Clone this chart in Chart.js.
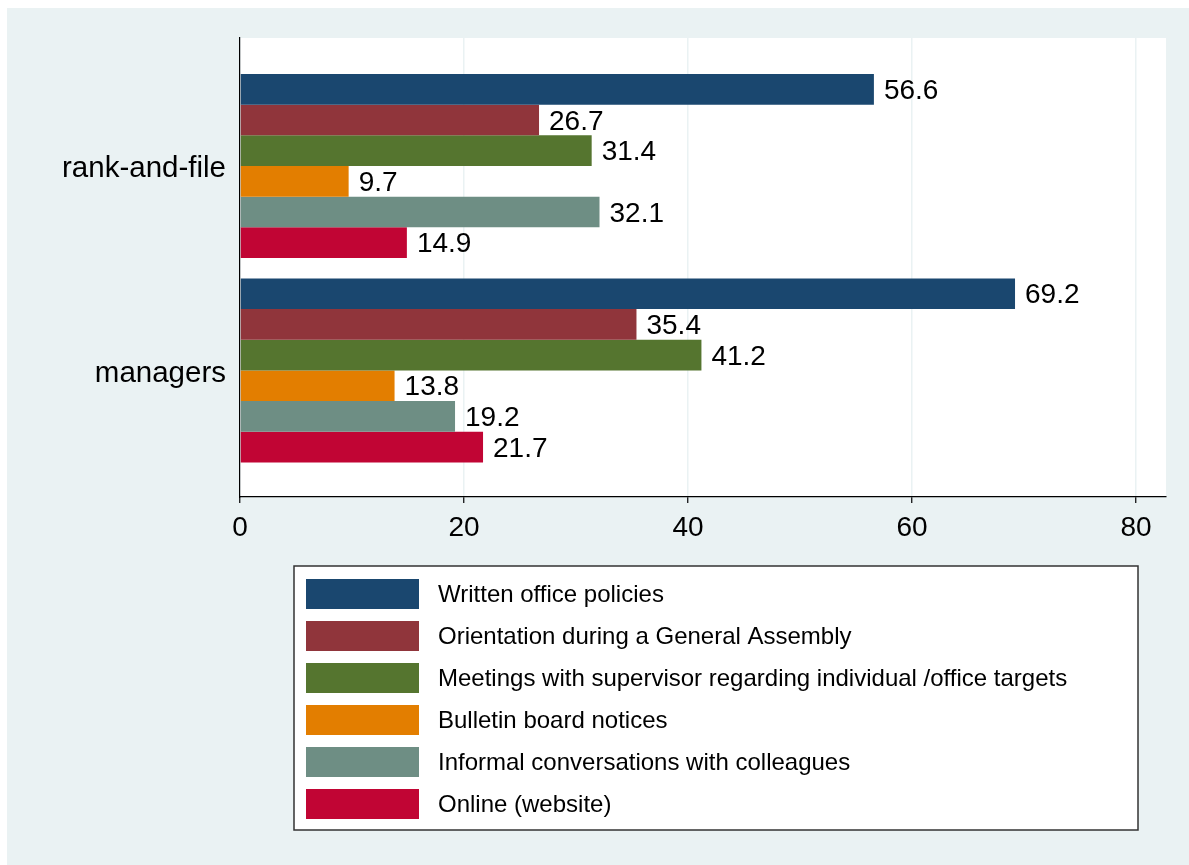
<!DOCTYPE html>
<html><head><meta charset="utf-8">
<style>html,body{margin:0;padding:0;background:#fff;} #wrap{width:1189px;height:865px;position:relative;}</style>
<script src="https://cdn.jsdelivr.net/npm/chart.js@4.4.1/dist/chart.umd.min.js"></script>
</head><body><div id="wrap"><canvas id="c" width="1189" height="865"></canvas></div>
<script>
const groups = ['rank-and-file', 'managers'];
const seriesNames = [
  'Written office policies',
  'Orientation during a General Assembly',
  'Meetings with supervisor regarding individual /office targets',
  'Bulletin board notices',
  'Informal conversations with colleagues',
  'Online (website)'
];
const seriesColors = ['#1a476f', '#90353b', '#55752f', '#e37e00', '#6e8e84', '#c10534'];
const writtenPolicies = [56.6, 69.2];
const orientation = [26.7, 35.4];
const meetings = [31.4, 41.2];
const bulletin = [9.7, 13.8];
const informal = [32.1, 19.2];
const online = [14.9, 21.7];
const xTicks = [0, 20, 40, 60, 80];

const seriesValues = [writtenPolicies, orientation, meetings, bulletin, informal, online];
const FONT = '"Liberation Sans", Arial, Helvetica, sans-serif';
const Y_MIN = 0.374, Y_MAX = 2.619;

const datasets = seriesValues.map((vals, s) => ({
  label: seriesNames[s],
  data: vals.map((v, i) => ({ x: v, y: i + 1 })),
  backgroundColor: seriesColors[s],
  borderWidth: 0,
  categoryPercentage: 0.9,
  barPercentage: 1.0
}));

const bgPlugin = {
  id: 'bg',
  beforeDraw(chart) {
    const ctx = chart.ctx, a = chart.chartArea;
    ctx.save();
    ctx.fillStyle = '#eaf2f3';
    ctx.fillRect(7, 8, chart.width - 7, chart.height - 8);
    ctx.fillStyle = '#ffffff';
    ctx.fillRect(a.left, a.top, a.right - a.left, a.bottom - a.top);
    ctx.restore();
  }
};

const labelPlugin = {
  id: 'vlabels',
  afterDatasetsDraw(chart) {
    const ctx = chart.ctx;
    ctx.save();
    ctx.font = '28px ' + FONT;
    ctx.fillStyle = '#000';
    ctx.textAlign = 'left';
    ctx.textBaseline = 'middle';
    chart.data.datasets.forEach((ds, di) => {
      const meta = chart.getDatasetMeta(di);
      meta.data.forEach((el, i) => {
        ctx.fillText(ds.data[i].x.toFixed(1), el.x + 10, el.y + 2);
      });
    });
    ctx.restore();
  }
};

const legendPlugin = {
  id: 'boxlegend',
  afterDraw(chart) {
    const ctx = chart.ctx;
    const bx = 294, by = 566, bw = 844, bh = 264;
    ctx.save();
    ctx.fillStyle = '#fff';
    ctx.fillRect(bx, by, bw, bh);
    ctx.strokeStyle = '#333';
    ctx.lineWidth = 1.5;
    ctx.strokeRect(bx, by, bw, bh);
    ctx.font = '24px ' + FONT;
    ctx.textBaseline = 'middle';
    ctx.textAlign = 'left';
    chart.data.datasets.forEach((ds, i) => {
      const y = 579 + i * 42;
      ctx.fillStyle = ds.backgroundColor;
      ctx.fillRect(306, y, 113, 30);
      ctx.fillStyle = '#000';
      ctx.fillText(ds.label, 438, y + 16);
    });
    ctx.restore();
  }
};

new Chart(document.getElementById('c'), {
  type: 'bar',
  data: { datasets },
  options: {
    indexAxis: 'y',
    responsive: false,
    animation: false,
    devicePixelRatio: 1,
    layout: { padding: { left: 0, top: 38, right: 23, bottom: 308 } },
    plugins: { legend: { display: false }, tooltip: { enabled: false } },
    scales: {
      y: {
        type: 'linear',
        position: 'left',
        reverse: true,
        offset: false,
        bounds: 'data',
        min: Y_MIN,
        max: Y_MAX,
        afterDataLimits(scale) { scale.min = Y_MIN; scale.max = Y_MAX; },
        afterBuildTicks(scale) {
          scale.ticks = groups.map((g, i) => ({ value: i + 1 }));
          scale.min = Y_MIN; scale.max = Y_MAX;
        },
        afterFit(scale) { scale.width = 240; },
        ticks: {
          callback: (v) => groups[Math.round(v) - 1],
          font: { family: FONT, size: 29.5 },
          color: '#000',
          padding: 14,
          labelOffset: 3
        },
        grid: { display: true, offset: false, drawOnChartArea: false, drawTicks: false },
        border: { display: true, color: '#000', width: 1.2 }
      },
      x: {
        type: 'linear',
        position: 'bottom',
        min: 0,
        max: 82.68,
        afterBuildTicks(scale) { scale.ticks = xTicks.map(v => ({ value: v })); },
        afterFit(scale) { scale.height = 60; },
        ticks: {
          callback: (v) => String(v),
          font: { family: FONT, size: 28 },
          color: '#000',
          padding: 8,
          maxRotation: 0
        },
        grid: { color: '#eaf2f3', lineWidth: 1.5, tickColor: '#000', tickLength: 6, tickWidth: 1.2 },
        border: { display: true, color: '#000', width: 1.2 }
      }
    }
  },
  plugins: [bgPlugin, labelPlugin, legendPlugin]
});
</script>
</body></html>
